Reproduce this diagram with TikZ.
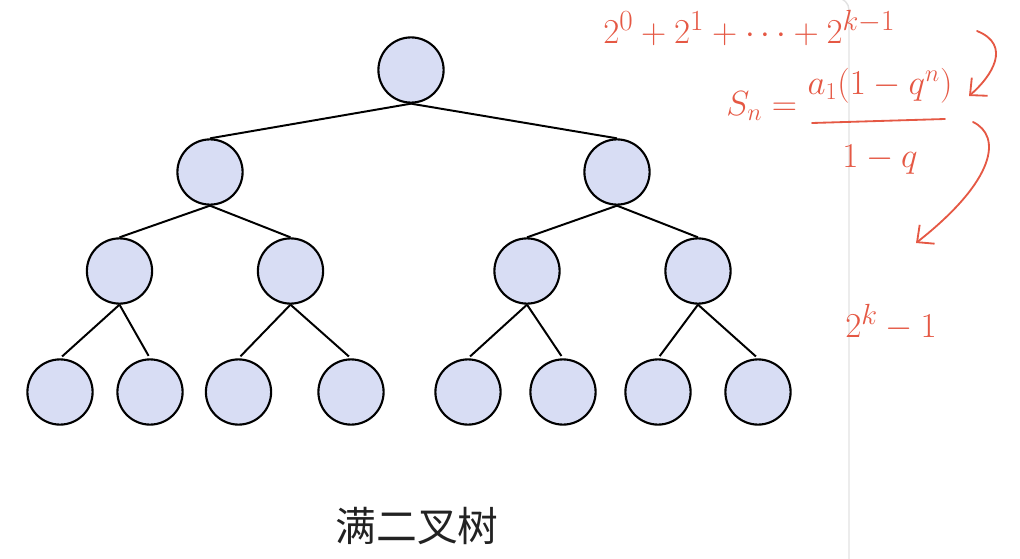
\documentclass[tikz,border=0pt]{standalone}
\usepackage{xcolor}
\usepackage{fontspec}
\usetikzlibrary{arrows.meta}
\newfontfamily\cjk{Noto Sans CJK SC}
\definecolor{nodefill}{RGB}{216,221,244}
\definecolor{inkred}{RGB}{229,88,68}
\definecolor{panelgray}{RGB}{226,226,226}
\definecolor{captiongray}{RGB}{34,34,34}

\begin{document}
\begin{tikzpicture}[x=0.025cm, y=-0.025cm,
    tnode/.style={circle, draw, line width=1.5pt, fill=nodefill, minimum size=1.63cm, inner sep=0pt},
    edge/.style={line width=1.4pt},
    ink/.style={text=inkred, inner sep=0pt},
    inkline/.style={draw=inkred, line width=1.3pt, line cap=round},
    inkarrow/.style={inkline, -{Straight Barb[length=3.2mm, width=6mm]}}]
    \useasboundingbox (0,0) rectangle (1020,559);
    % panel edge
    \draw[panelgray, line width=1pt, rounded corners=0.3cm] (849,570) |- (700,-2);
    % tree
    \node[tnode] (root) at (411,70) {};
    \node[tnode] (l) at (210,172) {};
    \node[tnode] (r) at (617,172) {};
    \node[tnode] (ll) at (119.5,271) {};
    \node[tnode] (lr) at (290.5,271) {};
    \node[tnode] (rl) at (527,271) {};
    \node[tnode] (rr) at (698,271) {};
    \node[tnode] (lll) at (60,392) {};
    \node[tnode] (llr) at (150,392) {};
    \node[tnode] (lrl) at (238.5,392) {};
    \node[tnode] (lrr) at (351,392) {};
    \node[tnode] (rll) at (468,392) {};
    \node[tnode] (rlr) at (563,392) {};
    \node[tnode] (rrl) at (658,392) {};
    \node[tnode] (rrr) at (758,392) {};
    \draw[edge] (root.south) -- (l.north);
    \draw[edge] (root.south) -- (r.north);
    \draw[edge] (l.south) -- (ll.north);
    \draw[edge] (l.south) -- (lr.north);
    \draw[edge] (r.south) -- (rl.north);
    \draw[edge] (r.south) -- (rr.north);
    \draw[edge, shorten >=2pt] (ll.south) -- (lll.north);
    \draw[edge, shorten >=2pt] (ll.south) -- (llr.north);
    \draw[edge, shorten >=2pt] (lr.south) -- (lrl.north);
    \draw[edge, shorten >=2pt] (lr.south) -- (lrr.north);
    \draw[edge, shorten >=2pt] (rl.south) -- (rll.north);
    \draw[edge, shorten >=2pt] (rl.south) -- (rlr.north);
    \draw[edge, shorten >=2pt] (rr.south) -- (rrl.north);
    \draw[edge, shorten >=2pt] (rr.south) -- (rrr.north);
    \node[text=captiongray] (caption) at (417,526) {\cjk\fontsize{29pt}{34pt}\selectfont 满二叉树};
    % notes
    \node[ink, anchor=base west] (sum) at (603,43) {\fontsize{31pt}{37pt}\selectfont $2^0+2^1+\cdots+2^{k-1}$};
    \node[ink, anchor=base west] (sn) at (726,115) {\fontsize{24pt}{29pt}\selectfont $S_n=$};
    \node[ink, anchor=base] (num) at (880,94) {\fontsize{24pt}{29pt}\selectfont $a_1(1-q^n)$};
    \node[ink, anchor=base] (den) at (880,167) {\fontsize{24pt}{29pt}\selectfont $1-q$};
    \draw[inkline] (812,123) -- (945,119);
    \node[ink, anchor=base west] (total) at (845,337) {\fontsize{32pt}{38pt}\selectfont $2^k-1$};
    \coordinate (a1s) at (977,31);
    \coordinate (a1e) at (969,96);
    \coordinate (a2s) at (973,122);
    \coordinate (a2e) at (916,243);
    \draw[inkarrow] (a1s) .. controls (1012,45) and (992,76) .. (a1e);
    \draw[inkarrow] (a2s) .. controls (1002,136) and (996,180) .. (a2e);
\end{tikzpicture}
\end{document}
